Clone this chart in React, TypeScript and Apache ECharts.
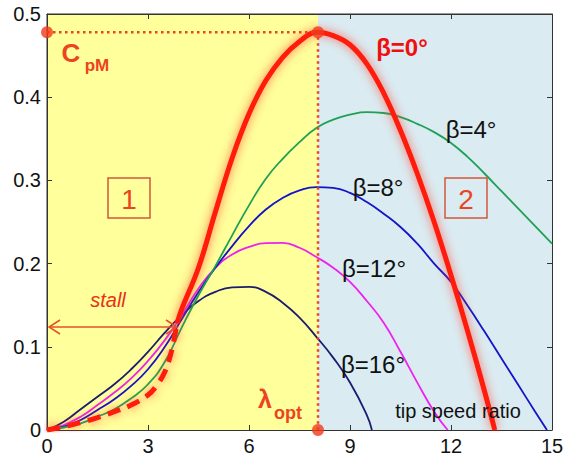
import React, { useEffect, useRef } from 'react';
import * as echarts from 'echarts';

// ---- data ----
const xTicks = [0, 3, 6, 9, 12, 15];
const yTicks = [0, 0.1, 0.2, 0.3, 0.4, 0.5];

const lambdaOpt = 8.05;
const cpMax = 0.478;

// beta = 0 deg: stall part (dashed) and normal part (solid)
const lambda0Stall = [0, 0.5, 1, 1.5, 2, 2.5, 3, 3.25, 3.5, 3.7, 3.86];
const cp0Stall = [0, 0.004, 0.009, 0.015, 0.022, 0.03, 0.042, 0.053, 0.07, 0.095, 0.128];
const lambda0 = [3.86, 4, 4.5, 5, 5.5, 6, 6.5, 7, 7.5, 8, 8.5, 9, 9.5, 10, 10.5, 11, 11.5, 12, 12.5, 13, 13.3];
const cp0 = [0.128, 0.145, 0.195, 0.262, 0.327, 0.38, 0.42, 0.448, 0.467, 0.478, 0.474, 0.463, 0.44, 0.405, 0.36, 0.308, 0.25, 0.186, 0.118, 0.046, 0];

// beta = 4 deg
const lambda4 = [0, 0.5, 1, 1.5, 2, 2.5, 3, 3.5, 4, 4.5, 5, 5.5, 6, 6.5, 7, 7.5, 8, 8.5, 9, 9.5, 10, 10.5, 11, 11.5, 12, 12.5, 13, 13.5, 14, 14.5, 15];
const cp4 = [0, 0.003, 0.008, 0.016, 0.025, 0.038, 0.055, 0.082, 0.123, 0.162, 0.197, 0.234, 0.27, 0.302, 0.326, 0.346, 0.363, 0.373, 0.379, 0.382, 0.381, 0.376, 0.368, 0.358, 0.345, 0.328, 0.308, 0.287, 0.266, 0.245, 0.224];

// beta = 8 deg
const lambda8 = [0, 0.5, 1, 1.5, 2, 2.5, 3, 3.5, 4, 4.5, 5, 5.5, 6, 6.5, 7, 7.5, 8, 8.5, 9, 9.5, 10, 10.5, 11, 11.5, 12, 12.5, 13, 13.5, 14, 14.5, 14.85];
const cp8 = [0, 0.004, 0.012, 0.024, 0.037, 0.053, 0.073, 0.1, 0.133, 0.166, 0.195, 0.221, 0.245, 0.265, 0.279, 0.288, 0.292, 0.291, 0.285, 0.274, 0.26, 0.244, 0.224, 0.2, 0.178, 0.149, 0.118, 0.086, 0.054, 0.022, 0];

// beta = 12 deg
const lambda12 = [0, 0.5, 1, 1.5, 2, 2.5, 3, 3.5, 4, 4.5, 5, 5.5, 6, 6.5, 7, 7.5, 8, 8.5, 9, 9.5, 10, 10.5, 11, 11.5, 11.9];
const cp12 = [0, 0.006, 0.016, 0.03, 0.045, 0.062, 0.083, 0.108, 0.138, 0.17, 0.195, 0.211, 0.22, 0.2245, 0.2248, 0.219, 0.208, 0.195, 0.178, 0.155, 0.129, 0.094, 0.057, 0.022, 0];

// beta = 16 deg
const lambda16 = [0, 0.5, 1, 1.5, 2, 2.5, 3, 3.5, 4, 4.5, 5, 5.5, 6, 6.5, 7, 7.5, 8, 8.5, 9, 9.5, 9.65];
const cp16 = [0, 0.01, 0.025, 0.04, 0.055, 0.073, 0.094, 0.117, 0.138, 0.155, 0.166, 0.1715, 0.172, 0.166, 0.153, 0.135, 0.112, 0.087, 0.057, 0.018, 0];

const zip = (xs: number[], ys: number[]) => xs.map((x, i) => [x, ys[i]]);

const FONT = "'Liberation Sans', Arial, Helvetica, sans-serif";
const ORANGE_RED = '#EC4420';

function txt(text: string, x: number, y: number, size: number, color: string, weight = 'normal', style = 'normal', align = 'center') {
  return {
    type: 'text',
    x,
    y,
    z: 100,
    silent: true,
    style: {
      text,
      fill: color,
      fontSize: size,
      fontWeight: weight,
      fontStyle: style,
      fontFamily: FONT,
      align,
      textAlign: align,
      verticalAlign: 'middle',
      textVerticalAlign: 'middle',
    },
  };
}

export default function App() {
  const ref = useRef<HTMLDivElement>(null);

  useEffect(() => {
    if (!ref.current) return;
    const chart = echarts.init(ref.current, undefined, { renderer: 'svg' });

    const axisLineStyle = { color: '#333', width: 1 };
    const xBase = {
      type: 'value',
      min: xTicks[0],
      max: xTicks[xTicks.length - 1],
      interval: 3,
      axisLine: { show: true, onZero: false, lineStyle: axisLineStyle },
      axisTick: { show: true, inside: true, length: 5, lineStyle: axisLineStyle },
      splitLine: { show: false },
    };
    const yBase = {
      type: 'value',
      min: yTicks[0],
      max: yTicks[yTicks.length - 1],
      interval: 0.1,
      axisLine: { show: true, onZero: false, lineStyle: axisLineStyle },
      axisTick: { show: true, inside: true, length: 5, lineStyle: axisLineStyle },
      splitLine: { show: false },
    };

    const thin = (name: string, xs: number[], ys: number[], color: string) => ({
      name,
      type: 'line',
      data: zip(xs, ys),
      smooth: 0.5,
      showSymbol: false,
      symbol: 'none',
      z: 3,
      lineStyle: { color, width: 1.8 },
    });

    chart.setOption({
      animation: false,
      grid: { left: 47, right: 16, top: 14, bottom: 29, show: true, borderColor: '#333', borderWidth: 1 },
      xAxis: [
        {
          ...xBase,
          position: 'bottom',
          axisLabel: { color: '#111', fontSize: 20, fontFamily: FONT, margin: 6 },
        },
        { ...xBase, position: 'top', axisLabel: { show: false } },
      ],
      yAxis: [
        {
          ...yBase,
          position: 'left',
          axisLabel: {
            color: '#111',
            fontSize: 20,
            fontFamily: FONT,
            margin: 6,
            padding: [16, 0, 0, 0],
            formatter: (v: number) => (v === 0 ? '0' : v.toFixed(1)),
          },
        },
        { ...yBase, position: 'right', axisLabel: { show: false } },
      ],
      series: [
        {
          name: 'regions',
          type: 'line',
          data: [[0, 0]],
          showSymbol: false,
          symbol: 'none',
          lineStyle: { opacity: 0 },
          z: 0,
          silent: true,
          markArea: {
            silent: true,
            z: 0,
            data: [
              [{ xAxis: 0, itemStyle: { color: '#FFFF9C' } }, { xAxis: lambdaOpt }],
              [{ xAxis: lambdaOpt, itemStyle: { color: '#DAEBF2' } }, { xAxis: 15 }],
            ],
          },
        },
        thin('β=16°', lambda16, cp16, '#1C1C6E'),
        thin('β=12°', lambda12, cp12, '#EE22EE'),
        thin('β=8°', lambda8, cp8, '#1414C8'),
        thin('β=4°', lambda4, cp4, '#1FA155'),
        {
          name: 'β=0° stall',
          type: 'line',
          data: zip(lambda0Stall, cp0Stall),
          smooth: 0.4,
          showSymbol: false,
          symbol: 'none',
          z: 5,
          lineStyle: {
            color: '#FF1A0A',
            width: 5,
            type: [13, 8],
            shadowColor: 'rgba(255,60,40,0.8)',
            shadowBlur: 10,
          },
        },
        {
          name: 'β=0°',
          type: 'line',
          data: zip(lambda0, cp0),
          smooth: 0.4,
          showSymbol: false,
          symbol: 'none',
          z: 5,
          lineStyle: {
            color: '#FF1A0A',
            width: 5,
            shadowColor: 'rgba(255,60,40,0.8)',
            shadowBlur: 10,
          },
        },
        {
          name: 'optimum',
          type: 'line',
          data: [
            [0, cpMax],
            [lambdaOpt, cpMax],
            [lambdaOpt, 0],
          ],
          showSymbol: false,
          symbol: 'none',
          z: 6,
          lineStyle: { color: ORANGE_RED, width: 2.5, type: [2.5, 3.5] },
        },
        {
          name: 'optimum points',
          type: 'scatter',
          data: [
            [0, cpMax],
            [lambdaOpt, cpMax],
            [lambdaOpt, 0],
          ],
          symbolSize: 12,
          clip: false,
          z: 7,
          itemStyle: { color: '#F23A1A' },
        },
      ],
      graphic: [
        // C_pM
        txt('C', 71, 53, 26, ORANGE_RED, 'bold'),
        txt('pM', 97, 65, 17, ORANGE_RED, 'bold'),
        // beta labels
        txt('β=0°', 402, 47, 24, '#F01010', 'bold'),
        txt('β=4°', 471, 129, 24, '#111'),
        txt('β=8°', 378, 187, 24, '#111'),
        txt('β=12°', 374, 268, 24, '#111'),
        txt('β=16°', 373, 364, 24, '#111'),
        // lambda_opt
        txt('λ', 265, 399, 25, ORANGE_RED, 'bold'),
        txt('opt', 288, 413, 18, ORANGE_RED, 'bold'),
        // axis title
        txt('tip speed ratio', 458, 411, 20, '#111'),
        // stall
        txt('stall', 108, 300, 20, '#E8301C', 'normal', 'italic'),
        {
          type: 'polyline',
          z: 100,
          silent: true,
          shape: { points: [[49, 327], [177, 327]] },
          style: { stroke: '#E5502A', lineWidth: 1.5, fill: 'none' },
        },
        {
          type: 'polyline',
          z: 100,
          silent: true,
          shape: { points: [[60, 320], [49, 327], [60, 334]] },
          style: { stroke: '#E5502A', lineWidth: 1.5, fill: 'none' },
        },
        {
          type: 'polyline',
          z: 100,
          silent: true,
          shape: { points: [[166, 320], [177, 327], [166, 334]] },
          style: { stroke: '#E5502A', lineWidth: 1.5, fill: 'none' },
        },
        // region boxes
        {
          type: 'rect',
          z: 100,
          silent: true,
          shape: { x: 108, y: 178, width: 42, height: 40 },
          style: { stroke: '#D2583A', lineWidth: 1.5, fill: 'none' },
        },
        txt('1', 129, 199, 28, ORANGE_RED),
        {
          type: 'rect',
          z: 100,
          silent: true,
          shape: { x: 445, y: 178, width: 42, height: 40 },
          style: { stroke: '#D2583A', lineWidth: 1.5, fill: 'none' },
        },
        txt('2', 466, 199, 28, ORANGE_RED),
      ],
    });

    return () => chart.dispose();
  }, []);

  return (
    <div
      ref={ref}
      style={{ position: 'fixed', left: 0, top: 0, width: 568, height: 459, background: '#fff' }}
    />
  );
}
